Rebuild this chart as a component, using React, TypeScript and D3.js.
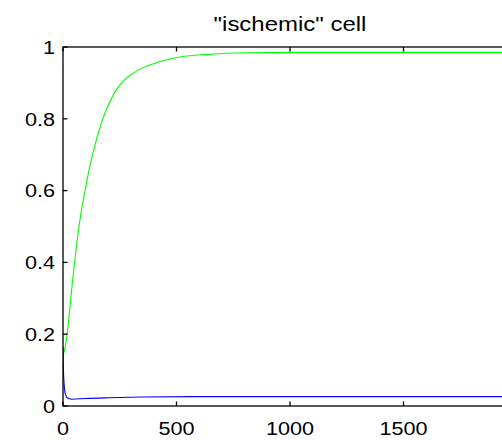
import React, { useEffect, useRef } from 'react';
import * as d3 from 'd3';

// curves
const greenTime = [0, 10, 20, 30, 40, 50, 60, 75, 97, 130, 170, 229, 317, 405, 515, 650, 808, 1000, 2000];
const greenValue = [0.14, 0.165, 0.21, 0.27, 0.335, 0.395, 0.45, 0.52, 0.6, 0.7, 0.79, 0.875, 0.93, 0.955, 0.972, 0.98, 0.984, 0.985, 0.985];

const blueTime = [0, 2, 4, 7, 12, 20, 38, 100, 200, 350, 580, 1000, 2000];
const blueValue = [0.165, 0.1, 0.07, 0.045, 0.03, 0.022, 0.019, 0.021, 0.023, 0.025, 0.026, 0.026, 0.026];

const xTicks = [0, 500, 1000, 1500, 2000];
const xTickLabels = ['0', '500', '1000', '1500', '']; // last one falls off the page
const yTicks = [0, 0.2, 0.4, 0.6, 0.8, 1];
const yTickLabels = ['0', '0.2', '0.4', '0.6', '0.8', '1'];
const title = '"ischemic" cell';

export default function App() {
  const svgRef = useRef<SVGSVGElement>(null);

  useEffect(() => {
    const width = 502;
    const height = 440;
    const left = 63, right = 517, top = 47, bottom = 406;
    const stretch = 1.17; // text is a bit wide in the original

    const svg = d3.select(svgRef.current);
    svg.selectAll('*').remove();
    svg.attr('width', width).attr('height', height);

    const x = d3.scaleLinear().domain([0, 2000]).range([left, right]);
    const y = d3.scaleLinear().domain([0, 1]).range([bottom, top]);

    svg.append('rect').attr('width', width).attr('height', height).attr('fill', '#fff');

    svg.append('defs').append('clipPath').attr('id', 'plot')
      .append('rect').attr('x', left).attr('y', top)
      .attr('width', right - left).attr('height', bottom - top);

    const line = d3.line<[number, number]>()
      .x(d => x(d[0]))
      .y(d => y(d[1]))
      .curve(d3.curveMonotoneX);

    const plot = svg.append('g').attr('clip-path', 'url(#plot)');
    plot.append('path')
      .attr('d', line(greenTime.map((t, i) => [t, greenValue[i]])))
      .attr('fill', 'none').attr('stroke', '#00ff00').attr('stroke-width', 1.1);
    plot.append('path')
      .attr('d', line(blueTime.map((t, i) => [t, blueValue[i]])))
      .attr('fill', 'none').attr('stroke', '#0000ff').attr('stroke-width', 1.1);

    // box + inward ticks
    const axis = svg.append('g').attr('stroke', '#000').attr('stroke-width', 1.3).attr('fill', 'none');
    axis.append('rect').attr('x', left).attr('y', top).attr('width', right - left).attr('height', bottom - top);
    xTicks.forEach(t => {
      axis.append('line').attr('x1', x(t)).attr('x2', x(t)).attr('y1', bottom).attr('y2', bottom - 4.5);
      axis.append('line').attr('x1', x(t)).attr('x2', x(t)).attr('y1', top).attr('y2', top + 4.5);
    });
    yTicks.forEach(t => {
      axis.append('line').attr('x1', left).attr('x2', left + 4.5).attr('y1', y(t)).attr('y2', y(t));
      axis.append('line').attr('x1', right).attr('x2', right - 4.5).attr('y1', y(t)).attr('y2', y(t));
    });

    const font = "'Liberation Sans', Arial, sans-serif";

    xTicks.forEach((t, i) => {
      if (!xTickLabels[i]) return;
      svg.append('text')
        .attr('transform', `translate(${x(t)},${bottom + 29}) scale(${stretch},1)`)
        .attr('text-anchor', 'middle')
        .style('font-family', font).style('font-size', '18.5px')
        .attr('fill', '#000')
        .text(xTickLabels[i]);
    });

    yTicks.forEach((t, i) => {
      svg.append('text')
        .attr('transform', `translate(${left - 8},${y(t) + 6.7}) scale(${stretch},1)`)
        .attr('text-anchor', 'end')
        .style('font-family', font).style('font-size', '18.5px')
        .attr('fill', '#000')
        .text(yTickLabels[i]);
    });

    svg.append('text')
      .attr('transform', `translate(${(left + right) / 2},31) scale(${stretch},1)`)
      .attr('text-anchor', 'middle')
      .style('font-family', font).style('font-size', '20.5px')
      .attr('fill', '#000')
      .text(title);
  }, []);

  return (
    <svg ref={svgRef} style={{ position: 'absolute', left: 0, top: 0, display: 'block' }}></svg>
  );
}
